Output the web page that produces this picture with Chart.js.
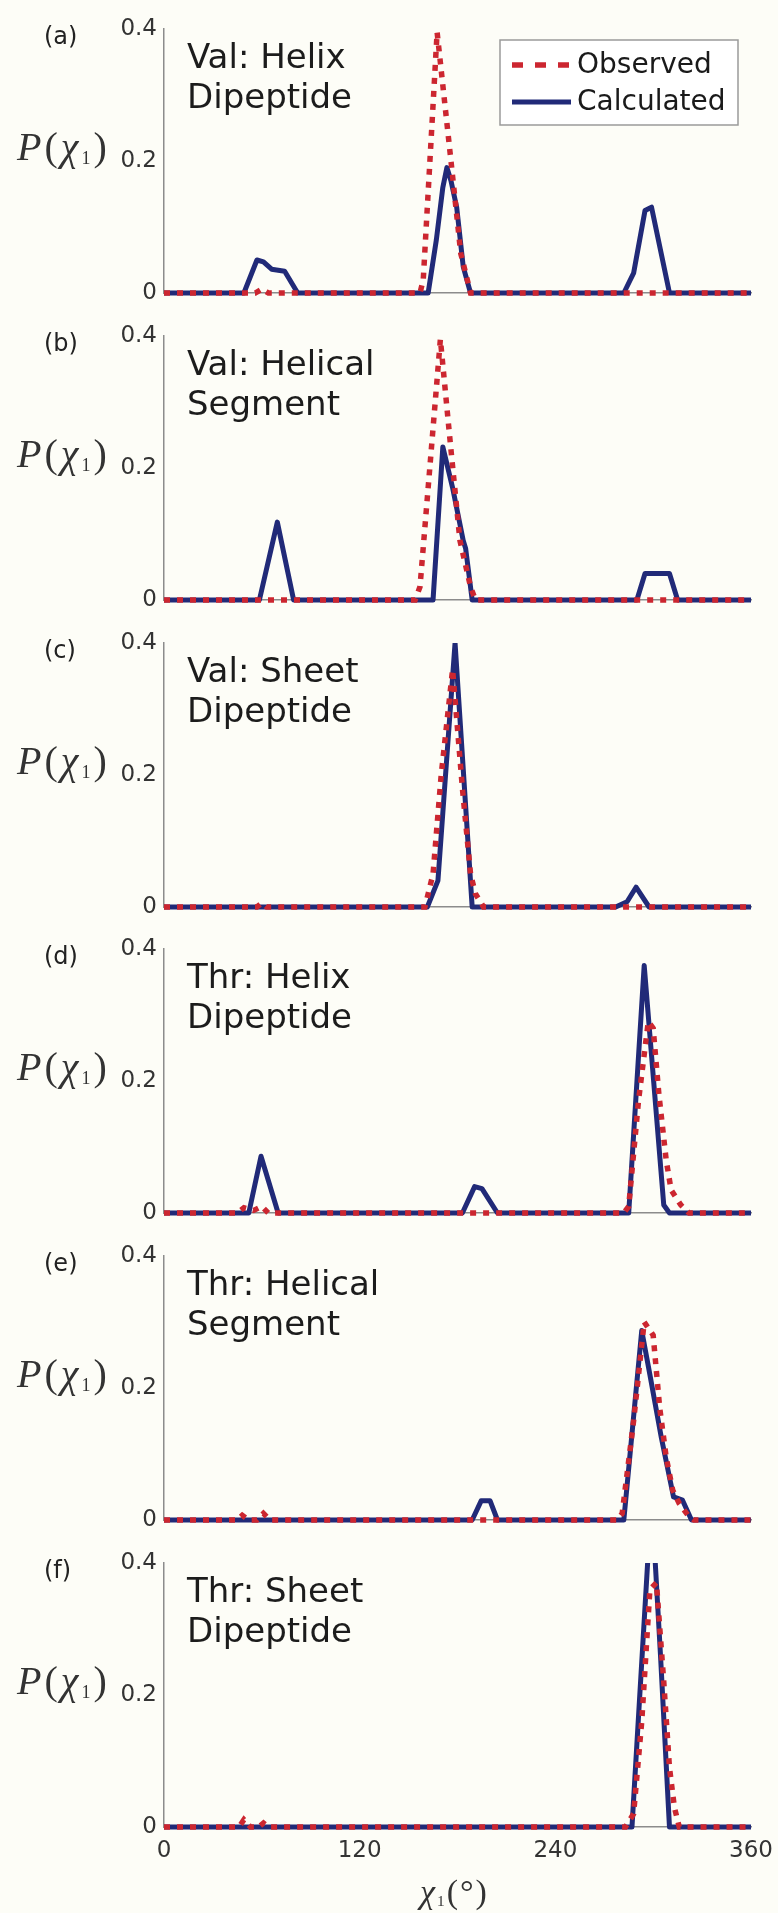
<!DOCTYPE html>
<html>
<head>
<meta charset="utf-8">
<script src="https://cdn.jsdelivr.net/npm/chart.js@4.4.0/dist/chart.umd.min.js"></script>
<style>
  html, body { margin: 0; padding: 0; background: #fdfdf7; }
  #page { position: relative; width: 778px; height: 1913px; overflow: hidden;
          font-family: 'DejaVu Sans', sans-serif; color: #1c1c1c; }
  .panel { position: absolute; left: 0; }
  .panel canvas { display: block; }
  .letter { position: absolute; left: 44px; font-size: 24px; line-height: 28px; color: #222; }
  .note { position: absolute; left: 187px; font-size: 34px; line-height: 40px; white-space: nowrap; }
  .ylab, .xlab { position: absolute; font-family: 'Liberation Serif', 'DejaVu Serif', serif;
                 color: #333; white-space: nowrap; }
  .ylab { left: 17px; font-size: 40px; line-height: 40px; letter-spacing: 3px; }
  .xlab { font-size: 34px; line-height: 36px; letter-spacing: 2px; }
  .ylab sub, .xlab sub { font-size: 45%; font-style: normal; vertical-align: -0.2em; }
</style>
</head>
<body>
<div id="page"></div>
<script>
// Datos: pares [chi1 en grados, P(chi1)]
const xTicks = [0, 120, 240, 360];
const yTicks = [0, 0.2, 0.4];
const seriesLabels = ['Observed', 'Calculated'];
const panelLetters = ['(a)', '(b)', '(c)', '(d)', '(e)', '(f)'];
const panelNotes = [
    ['Val: Helix', 'Dipeptide'],
    ['Val: Helical', 'Segment'],
    ['Val: Sheet', 'Dipeptide'],
    ['Thr: Helix', 'Dipeptide'],
    ['Thr: Helical', 'Segment'],
    ['Thr: Sheet', 'Dipeptide']
];

// (a) Val: Helix Dipeptide
const valHelixDipObs = [[0, 0], [56, 0], [60, 0.006], [64, 0], [157, 0], [159, 0.02], [167.5, 0.395],
    [176, 0.2], [182, 0.06], [188, 0], [360, 0]];
const valHelixDipCalc = [[0, 0], [49, 0], [57, 0.05], [61, 0.047], [66, 0.036], [74, 0.033], [82, 0],
    [162, 0], [167, 0.08], [171, 0.16], [173.5, 0.19], [176, 0.17], [179.5, 0.13], [183.5, 0.04],
    [188, 0], [282, 0], [288, 0.03], [295, 0.125], [299, 0.13], [310, 0], [360, 0]];
// (b) Val: Helical Segment
const valHelicalSegObs = [[0, 0], [154, 0], [157, 0.02], [169.5, 0.395], [175.5, 0.24], [181.5, 0.09],
    [188, 0.02], [191, 0], [360, 0]];
const valHelicalSegCalc = [[0, 0], [58.5, 0], [69.5, 0.118], [79.5, 0], [165, 0], [171, 0.232],
    [177, 0.17], [183.5, 0.09], [185, 0.078], [189, 0], [290, 0], [295, 0.04], [310, 0.04],
    [315, 0], [360, 0]];
// (c) Val: Sheet Dipeptide
const valSheetDipObs = [[0, 0], [57, 0], [60, 0.006], [63, 0], [160, 0], [165, 0.05], [170, 0.2],
    [177, 0.36], [183, 0.18], [188, 0.05], [191, 0.02], [196, 0], [360, 0]];
const valSheetDipCalc = [[0, 0], [161.5, 0], [168, 0.04], [178.5, 0.4], [189, 0], [277, 0],
    [284, 0.008], [289.5, 0.03], [297.5, 0], [360, 0]];
// (d) Thr: Helix Dipeptide
const thrHelixDipObs = [[0, 0], [45, 0], [49, 0.008], [55, 0.004], [60, 0.01], [64, 0], [282, 0],
    [285, 0.01], [291, 0.17], [297, 0.29], [300, 0.28], [303.5, 0.18], [308, 0.08], [311, 0.035],
    [317, 0.012], [322, 0], [360, 0]];
const thrHelixDipCalc = [[0, 0], [52, 0], [59.5, 0.086], [70, 0], [183, 0], [190.5, 0.04],
    [195, 0.037], [204.5, 0], [285, 0], [294.5, 0.375], [306.5, 0.012], [310, 0], [360, 0]];
// (e) Thr: Helical Segment
const thrHelicalSegObs = [[0, 0], [45, 0], [48, 0.007], [52, 0], [57, 0], [61, 0.01], [65, 0],
    [278, 0], [281, 0.01], [288, 0.15], [294.5, 0.3], [300, 0.28], [304, 0.17], [308, 0.095],
    [312, 0.045], [316, 0.025], [322, 0.005], [325, 0], [360, 0]];
const thrHelicalSegCalc = [[0, 0], [189, 0], [194.5, 0.029], [200, 0.029], [204.5, 0], [282, 0],
    [293, 0.287], [298, 0.22], [305, 0.125], [312.5, 0.035], [318, 0.03], [323.5, 0], [360, 0]];
// (f) Thr: Sheet Dipeptide
const thrSheetDipObs = [[0, 0], [46, 0], [49, 0.011], [53, 0], [58, 0], [61, 0.006], [64, 0],
    [283, 0], [288, 0.02], [293, 0.16], [298, 0.36], [302, 0.37], [306.5, 0.22], [310, 0.09],
    [313, 0.03], [316, 0], [360, 0]];
const thrSheetDipCalc = [[0, 0], [287, 0], [290, 0.125], [299, 0.5], [304.5, 0.26], [310, 0], [360, 0]];

const observedSets = [valHelixDipObs, valHelicalSegObs, valSheetDipObs,
    thrHelixDipObs, thrHelicalSegObs, thrSheetDipObs];
const calculatedSets = [valHelixDipCalc, valHelicalSegCalc, valSheetDipCalc,
    thrHelixDipCalc, thrHelicalSegCalc, thrSheetDipCalc];

// Estilos
const colorObserved = '#cc2630';
const colorCalculated = '#212a78';
const axisColor = '#8c8c8c';
Chart.defaults.font.family = "'DejaVu Sans', sans-serif";

// Geometría de cada panel (px)
const PAGE_H = 1913;
const PANEL_STEP = 306.8;
const AREA_TOP = 29;      // borde superior del área de trazado dentro del canvas
const AREA_BOTTOM = 293;  // línea de cero dentro del canvas
const AREA_LEFT = 164;
const AREA_RIGHT_PAD = 27;

// Leyenda con recuadro (solo en el panel a)
const legendBox = {
    id: 'legendBox',
    afterDraw(chart) {
        const ctx = chart.ctx;
        const x0 = 500, y0 = 40, w = 238, h = 85;
        ctx.save();
        ctx.fillStyle = '#ffffff';
        ctx.fillRect(x0, y0, w, h);
        ctx.strokeStyle = '#9a9a9a';
        ctx.lineWidth = 1.5;
        ctx.strokeRect(x0, y0, w, h);
        chart.data.datasets.forEach(function(ds, k) {
            const y = y0 + 25 + k * 37;
            ctx.beginPath();
            ctx.setLineDash(ds.borderDash ? [11, 12] : []);
            ctx.lineWidth = ds.borderWidth;
            ctx.strokeStyle = ds.borderColor;
            ctx.moveTo(x0 + 12, y);
            ctx.lineTo(x0 + 71, y);
            ctx.stroke();
            ctx.setLineDash([]);
            ctx.fillStyle = '#1a1a1a';
            ctx.font = "28px 'DejaVu Sans'";
            ctx.textBaseline = 'middle';
            ctx.fillText(ds.label, x0 + 77, y + 1);
        });
        ctx.restore();
    }
};

function toPoints(pairs) {
    return pairs.map(p => ({ x: p[0], y: p[1] }));
}

const page = document.getElementById('page');

panelLetters.forEach(function(letter, i) {
    const isLast = i === panelLetters.length - 1;
    const top = Math.round(i * PANEL_STEP);
    const height = isLast ? PAGE_H - top : 320;

    const wrap = document.createElement('div');
    wrap.className = 'panel';
    wrap.style.top = top + 'px';
    const canvas = document.createElement('canvas');
    canvas.width = 778;
    canvas.height = height;
    wrap.appendChild(canvas);
    page.appendChild(wrap);

    new Chart(canvas, {
        type: 'line',
        data: {
            datasets: [{
                label: seriesLabels[0],
                data: toPoints(observedSets[i]),
                borderColor: colorObserved,
                borderWidth: 5.5,
                borderDash: [6, 7],
                borderCapStyle: 'butt',
                pointRadius: 0,
                tension: 0,
                fill: false,
                clip: { left: 4, top: 0, right: 4, bottom: 4 }
            }, {
                label: seriesLabels[1],
                data: toPoints(calculatedSets[i]),
                borderColor: colorCalculated,
                borderWidth: 5,
                borderJoinStyle: 'round',
                pointRadius: 0,
                tension: 0,
                fill: false,
                clip: { left: 4, top: 0, right: 4, bottom: 4 }
            }]
        },
        options: {
            responsive: false,
            animation: false,
            events: [],
            layout: { padding: { top: AREA_TOP, left: 0, right: AREA_RIGHT_PAD, bottom: 0 } },
            plugins: {
                legend: { display: false },
                tooltip: { enabled: false }
            },
            scales: {
                x: {
                    type: 'linear',
                    min: 0,
                    max: 360,
                    afterBuildTicks: s => { s.ticks = xTicks.map(v => ({ value: v })); },
                    ticks: { display: isLast, font: { size: 23 }, color: '#333', padding: 10, maxRotation: 0 },
                    grid: { display: false, drawTicks: false },
                    border: { display: true, color: axisColor, width: 1.5 },
                    afterFit: s => {
                        s.height = height - AREA_BOTTOM;
                        s.paddingLeft = 0;
                        s.paddingRight = 0;
                    }
                },
                y: {
                    min: 0,
                    max: 0.4,
                    afterBuildTicks: s => { s.ticks = yTicks.map(v => ({ value: v })); },
                    ticks: { font: { size: 23 }, color: '#333', padding: 7, callback: v => String(v) },
                    grid: { display: false, drawTicks: false },
                    border: { display: true, color: axisColor, width: 1.5 },
                    afterFit: s => {
                        s.width = AREA_LEFT;
                        s.paddingTop = 0;
                        s.paddingBottom = 0;
                    }
                }
            }
        },
        plugins: i === 0 ? [legendBox] : []
    });

    // Etiquetas de texto del panel
    const let_ = document.createElement('div');
    let_.className = 'letter';
    let_.style.top = (top + AREA_TOP - 7) + 'px';
    let_.textContent = letter;
    page.appendChild(let_);

    const note = document.createElement('div');
    note.className = 'note';
    note.style.top = (top + 36) + 'px';
    note.innerHTML = panelNotes[i].join('<br>');
    page.appendChild(note);

    const ylab = document.createElement('div');
    ylab.className = 'ylab';
    ylab.style.top = (top + AREA_TOP + 132 - 14 - 20) + 'px';
    ylab.innerHTML = '<i>P</i>(<i>χ</i><sub>1</sub>)';
    page.appendChild(ylab);
});

const xlab = document.createElement('div');
xlab.className = 'xlab';
xlab.style.left = '420px';
xlab.style.top = '1874px';
xlab.innerHTML = '<i>χ</i><sub>1</sub>(°)';
page.appendChild(xlab);
</script>
</body>
</html>
